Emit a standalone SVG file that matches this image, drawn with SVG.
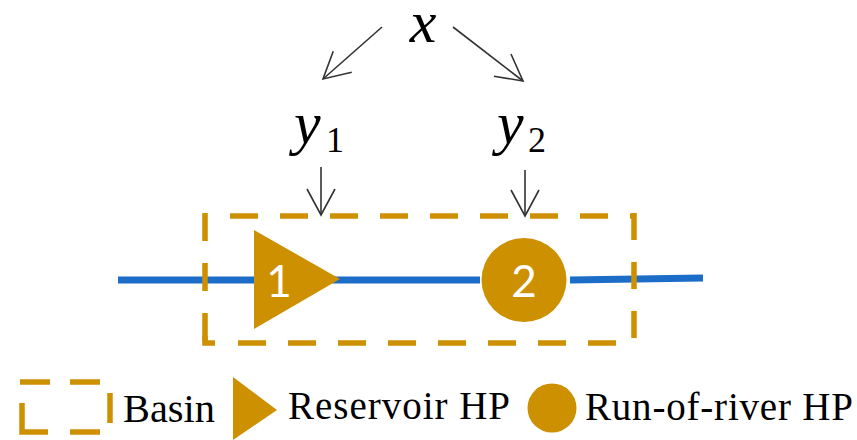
<svg xmlns="http://www.w3.org/2000/svg" width="857" height="440" viewBox="0 0 857 440">
  <style>
    .gold { fill: #CD9000; }
    .basin { fill: none; stroke: #CD9000; stroke-width: 5.5; }
    .river { fill: none; stroke: #1C6DC8; stroke-width: 7; stroke-linecap: butt; }
    .arrow { fill: none; stroke: #333333; stroke-width: 1.6; marker-end: url(#vhead); }
    .mi { font-style: italic; font-size: 60px; }
    .sub { font-size: 36px; }
    .num { font-size: 44px; fill: #fff; text-anchor: middle; }
    .legend { font-size: 39px; fill: #000; }
  </style>
  <defs>
    <marker id="vhead" markerUnits="userSpaceOnUse" markerWidth="60" markerHeight="60" refX="0" refY="0" orient="auto" viewBox="-30 -30 60 60" overflow="visible">
      <path d="M -26 -14 L 0 0 L -26 14" fill="none" stroke="#333333" stroke-width="1.6"/>
    </marker>
  </defs>

  <!-- variables -->
  <g id="var-x" font-family="Liberation Serif, Times New Roman, DejaVu Serif, serif">
    <text class="mi" x="423" y="42" text-anchor="middle">x</text>
  </g>
  <g id="var-y1" font-family="Liberation Serif, Times New Roman, DejaVu Serif, serif">
    <text class="mi" x="294" y="143">y</text>
    <text class="sub" x="326" y="152">1</text>
  </g>
  <g id="var-y2" font-family="Liberation Serif, Times New Roman, DejaVu Serif, serif">
    <text class="mi" x="497" y="143">y</text>
    <text class="sub" x="528" y="152">2</text>
  </g>

  <!-- connectors -->
  <g id="connectors">
    <line class="arrow" x1="382" y1="27" x2="323" y2="79"/>
    <line class="arrow" x1="453" y1="27" x2="523" y2="81"/>
    <line class="arrow" x1="321" y1="167" x2="321" y2="215"/>
    <line class="arrow" x1="525" y1="170" x2="525" y2="216"/>
  </g>

  <!-- river -->
  <g id="river">
    <path class="river" d="M118 280 L480 280 M570 280 L703 278"/>
  </g>

  <!-- basin boundary -->
  <g id="basin">
    <line class="basin" x1="230" y1="216" x2="634" y2="216" stroke-dasharray="28 22"/>
    <line class="basin" x1="634" y1="213" x2="634" y2="343" stroke-dasharray="27 22"/>
    <line class="basin" x1="238" y1="343" x2="634" y2="343" stroke-dasharray="28 22"/>
    <line class="basin" x1="205" y1="213" x2="205" y2="343" stroke-dasharray="28 22"/>
    <path class="basin" d="M205 336 L205 343 L215 343"/>
  </g>

  <!-- reservoir hydropower plant -->
  <g id="hp-1" font-family="Lato, Liberation Sans, sans-serif">
    <polygon class="gold" points="254,230 254,329 340,279"/>
    <text class="num" x="279" y="297">1</text>
  </g>

  <!-- run-of-river hydropower plant -->
  <g id="hp-2" font-family="Lato, Liberation Sans, sans-serif">
    <ellipse class="gold" cx="524" cy="280" rx="42.5" ry="42"/>
    <text class="num" x="524" y="297">2</text>
  </g>

  <!-- legend -->
  <g id="legend" font-family="Liberation Serif, Times New Roman, DejaVu Serif, serif">
    <g id="legend-basin">
      <path class="basin" d="M20 382 H50 M70 382 H100 M110 393 V423 M100 432 H70 M48 432 H22 V403" stroke-width="5"/>
      <text class="legend" x="123" y="422" textLength="92" lengthAdjust="spacingAndGlyphs">Basin</text>
    </g>
    <g id="legend-reservoir">
      <polygon class="gold" points="233,377 233,440 277,410"/>
      <text class="legend" x="288" y="419" textLength="222" lengthAdjust="spacing">Reservoir  HP</text>
    </g>
    <g id="legend-ror">
      <ellipse class="gold" cx="552" cy="408" rx="24.5" ry="24.5"/>
      <text class="legend" x="585" y="420" textLength="268" lengthAdjust="spacing">Run-of-river  HP</text>
    </g>
  </g>
</svg>
